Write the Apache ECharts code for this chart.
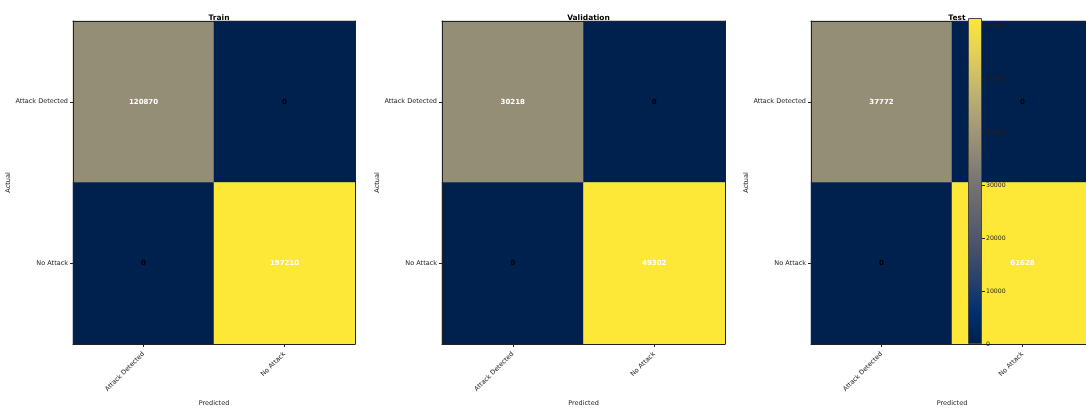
<!DOCTYPE html>
<html>
<head>
<meta charset="utf-8">
<script src="https://cdn.jsdelivr.net/npm/echarts@6/dist/echarts.min.js"></script>
<style>
html,body{margin:0;padding:0;background:#fff;}
#chart{width:1086px;height:408px;}
</style>
</head>
<body>
<div id="chart"></div>
<script>
// ---- data ----
const categories = ['Attack Detected', 'No Attack'];
const panelTitles = ['Train', 'Validation', 'Test'];
const trainMatrix = [[120870, 0], [0, 197210]];
const validationMatrix = [[30218, 0], [0, 49302]];
const testMatrix = [[37772, 0], [0, 61628]];
const colorbarTicks = [0, 10000, 20000, 30000, 40000, 50000, 60000];
const xAxisName = 'Predicted';
const yAxisName = 'Actual';

// ---- style ----
const cmap = ['#00204d', '#00306f', '#2a416b', '#4a526b', '#62646d', '#787672',
              '#928b77', '#aca177', '#c9b96b', '#e5d255', '#fde737'];
const FONT = 'DejaVu Sans';
const matrices = [trainMatrix, validationMatrix, testMatrix];
const grids = [
  {left: 73, top: 21, width: 282, height: 323, outerBoundsMode: 'none', containLabel: false},
  {left: 442, top: 21, width: 283, height: 323, outerBoundsMode: 'none', containLabel: false},
  {left: 811, top: 21, width: 282, height: 323, outerBoundsMode: 'none', containLabel: false},
  {left: 968, top: 18, width: 14, height: 326, outerBoundsMode: 'none', containLabel: false}
];
const panelCenters = [214, 583.5, 952];
const frameLine = {show: true, lineStyle: {color: '#222', width: 1}};

const xAxes = [], yAxes = [], series = [], visualMaps = [], titles = [];
matrices.forEach((m, i) => {
  const maxVal = Math.max(...m.flat());
  xAxes.push({
    type: 'category', gridIndex: i, data: categories, position: 'bottom', z: 3,
    name: xAxisName, nameLocation: 'middle', nameGap: 55,
    nameTextStyle: {fontFamily: FONT, fontSize: 6.5, color: '#222'},
    axisLine: frameLine,
    axisTick: {show: true, alignWithLabel: true, length: 3, lineStyle: {color: '#222'}},
    axisLabel: {rotate: 45, fontFamily: FONT, fontSize: 6.5, color: '#222', margin: 9, interval: 0},
    splitLine: {show: false}
  });
  yAxes.push({
    type: 'category', gridIndex: i, data: categories, inverse: true, position: 'left', z: 3,
    name: yAxisName, nameLocation: 'middle', nameGap: 59, nameRotate: 90,
    nameTextStyle: {fontFamily: FONT, fontSize: 6.5, color: '#222'},
    axisLine: frameLine,
    axisTick: {show: true, alignWithLabel: true, length: 3, lineStyle: {color: '#222'}},
    axisLabel: {fontFamily: FONT, fontSize: 6.5, color: '#222', margin: 5, interval: 0},
    splitLine: {show: false}
  });
  const data = [];
  m.forEach((row, r) => row.forEach((v, c) => {
    data.push({value: [c, r, v], label: {color: v > maxVal / 2 ? '#ffffff' : '#000000'}});
  }));
  series.push({
    type: 'heatmap', xAxisIndex: i, yAxisIndex: i, data: data, z: 2,
    label: {show: true, fontFamily: FONT, fontSize: 7, fontWeight: 'bold',
            formatter: p => String(p.value[2])},
    emphasis: {disabled: true}
  });
  visualMaps.push({
    type: 'continuous', show: false, seriesIndex: i, dimension: 2,
    min: 0, max: maxVal, inRange: {color: cmap}
  });
  titles.push({
    text: panelTitles[i], left: panelCenters[i], top: 9, textAlign: 'center',
    textStyle: {fontFamily: FONT, fontSize: 7.5, fontWeight: 'bold', color: '#000'}
  });
});

// colorbar axes (index 3)
const cbMax = Math.max(...testMatrix.flat());
xAxes.push({type: 'category', gridIndex: 3, data: ['cb'], show: false, boundaryGap: true});
yAxes.push({
  type: 'value', gridIndex: 3, min: 0, max: cbMax, interval: 10000, position: 'right', z: 10,
  axisLine: {show: false},
  axisTick: {show: true, length: 3, lineStyle: {color: '#222'}, customValues: colorbarTicks},
  axisLabel: {fontFamily: FONT, fontSize: 6.2, color: '#222', margin: 4,
              customValues: colorbarTicks, formatter: v => String(v)},
  splitLine: {show: false}
});

// frame lines top/right (indices 4..6)
[0, 1, 2].forEach(i => {
  xAxes.push({type: 'category', gridIndex: i, data: categories, position: 'top', z: 3,
    axisLine: frameLine, axisTick: {show: false}, axisLabel: {show: false}, splitLine: {show: false}});
  yAxes.push({type: 'category', gridIndex: i, data: categories, position: 'right', z: 3,
    axisLine: frameLine, axisTick: {show: false}, axisLabel: {show: false}, splitLine: {show: false}});
});

const gradStops = cmap.map((c, k) => ({offset: 1 - k / (cmap.length - 1), color: c}));
series.push({
  type: 'bar', xAxisIndex: 3, yAxisIndex: 3, data: [cbMax], barWidth: '100%', z: 8,
  silent: true,
  itemStyle: {
    color: new echarts.graphic.LinearGradient(0, 0, 0, 1, gradStops),
    borderColor: '#4a4a40', borderWidth: 1
  }
});

const chart = echarts.init(document.getElementById('chart'), null, {renderer: 'canvas'});
chart.setOption({
  animation: false,
  backgroundColor: '#ffffff',
  title: titles,
  grid: grids,
  xAxis: xAxes,
  yAxis: yAxes,
  visualMap: visualMaps,
  series: series
});
</script>
</body>
</html>
